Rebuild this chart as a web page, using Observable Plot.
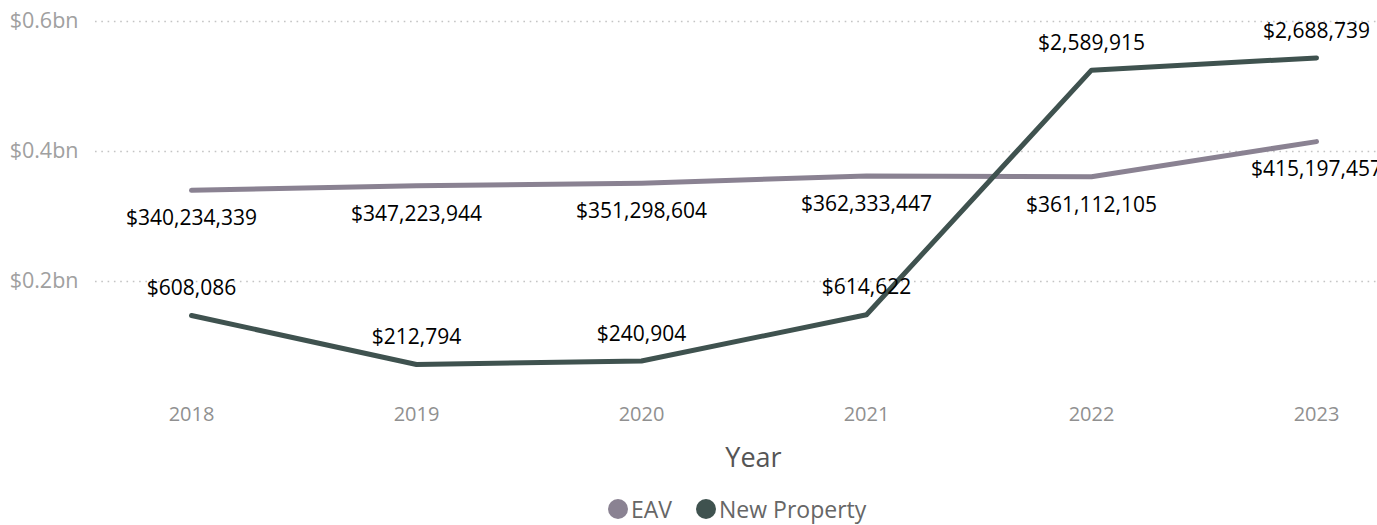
<!DOCTYPE html>
<html>
<head>
<meta charset="utf-8">
<script src="https://cdn.jsdelivr.net/npm/d3@7"></script>
<script src="https://cdn.jsdelivr.net/npm/@observablehq/plot@0.6"></script>
<style>
  html, body { margin: 0; padding: 0; background: #fff; overflow: hidden; }
  #wrap { position: relative; width: 1377px; height: 525px; font-family: "Open Sans", sans-serif; }
  #wrap svg { position: absolute; left: 0; top: 0; }
  #legend { position: absolute; left: 608px; top: 495px; height: 28px; display: flex; align-items: center; font-size: 23px; line-height: 28px; color: #666; }
  .sw { width: 20px; height: 20px; border-radius: 50%; display: inline-block; margin-right: 3px; }
  .item { display: flex; align-items: center; margin-right: 24px; }
</style>
</head>
<body>
<div id="wrap"></div>
<script>
const years = ["2018", "2019", "2020", "2021", "2022", "2023"];
const eavValues = [340234339, 347223944, 351298604, 362333447, 361112105, 415197457];
const newPropertyValues = [608086, 212794, 240904, 614622, 2589915, 2688739];
const seriesNames = ["EAV", "New Property"];
const seriesColors = ["#8a8292", "#3f524f"];
const yTicks = [0.2e9, 0.4e9, 0.6e9];

const eav = years.map((y, i) => ({year: y, value: eavValues[i]}));
const np = years.map((y, i) => ({year: y, value: newPropertyValues[i]}));
const fmt = d3.format("$,");

const W = 1377, H = 480;
const common = {
  width: W, height: H,
  marginLeft: 95, marginRight: -34, marginTop: 21, marginBottom: 69,
};

const p1 = Plot.plot({
  ...common,
  style: {fontFamily: "Open Sans, sans-serif", fontSize: "20px", background: "transparent", overflow: "hidden"},
  x: {type: "point", domain: years, padding: 0.4167},
  y: {domain: [0, 0.6e9]},
  marks: [
    Plot.gridY(yTicks, {stroke: "#c4c4c4", strokeOpacity: 1, strokeWidth: 1.6, strokeDasharray: "1.6,4.7"}),
    Plot.axisY(yTicks, {tickSize: 0, tickPadding: 17, fontSize: 21.5, color: "#a0a0a0", label: null, tickFormat: d => "$" + d3.format(".1f")(d / 1e9) + "bn"}),
    Plot.axisX({tickSize: 0, tickPadding: -5, fontSize: 20, color: "#909090", label: null}),
    Plot.text(["Year"], {text: d => d, frameAnchor: "bottom", dy: 55, fontSize: 27, fill: "#555"}),
    Plot.line(eav, {x: "year", y: "value", stroke: seriesColors[0], strokeWidth: 5}),
    Plot.text(eav, {x: "year", y: "value", text: d => fmt(d.value), dy: 28, fontSize: 21, fill: "#000"})
  ]
});

const p2 = Plot.plot({
  ...common,
  style: {fontFamily: "Open Sans, sans-serif", fontSize: "20px", background: "transparent", overflow: "hidden"},
  x: {type: "point", domain: years, padding: 0.4167, axis: null},
  y: {domain: [-167200, 2983000], axis: null},
  marks: [
    Plot.line(np, {x: "year", y: "value", stroke: seriesColors[1], strokeWidth: 5}),
    Plot.text(np, {x: "year", y: "value", text: d => fmt(d.value), dy: -27, fontSize: 21, fill: "#000"})
  ]
});

const wrap = document.getElementById("wrap");
wrap.appendChild(p1);
wrap.appendChild(p2);

const legend = document.createElement("div");
legend.id = "legend";
seriesNames.forEach((n, i) => {
  const it = document.createElement("div");
  it.className = "item";
  const sw = document.createElement("span");
  sw.className = "sw";
  sw.style.background = seriesColors[i];
  const t = document.createElement("span");
  t.textContent = n;
  it.appendChild(sw);
  it.appendChild(t);
  legend.appendChild(it);
});
wrap.appendChild(legend);
</script>
</body>
</html>
